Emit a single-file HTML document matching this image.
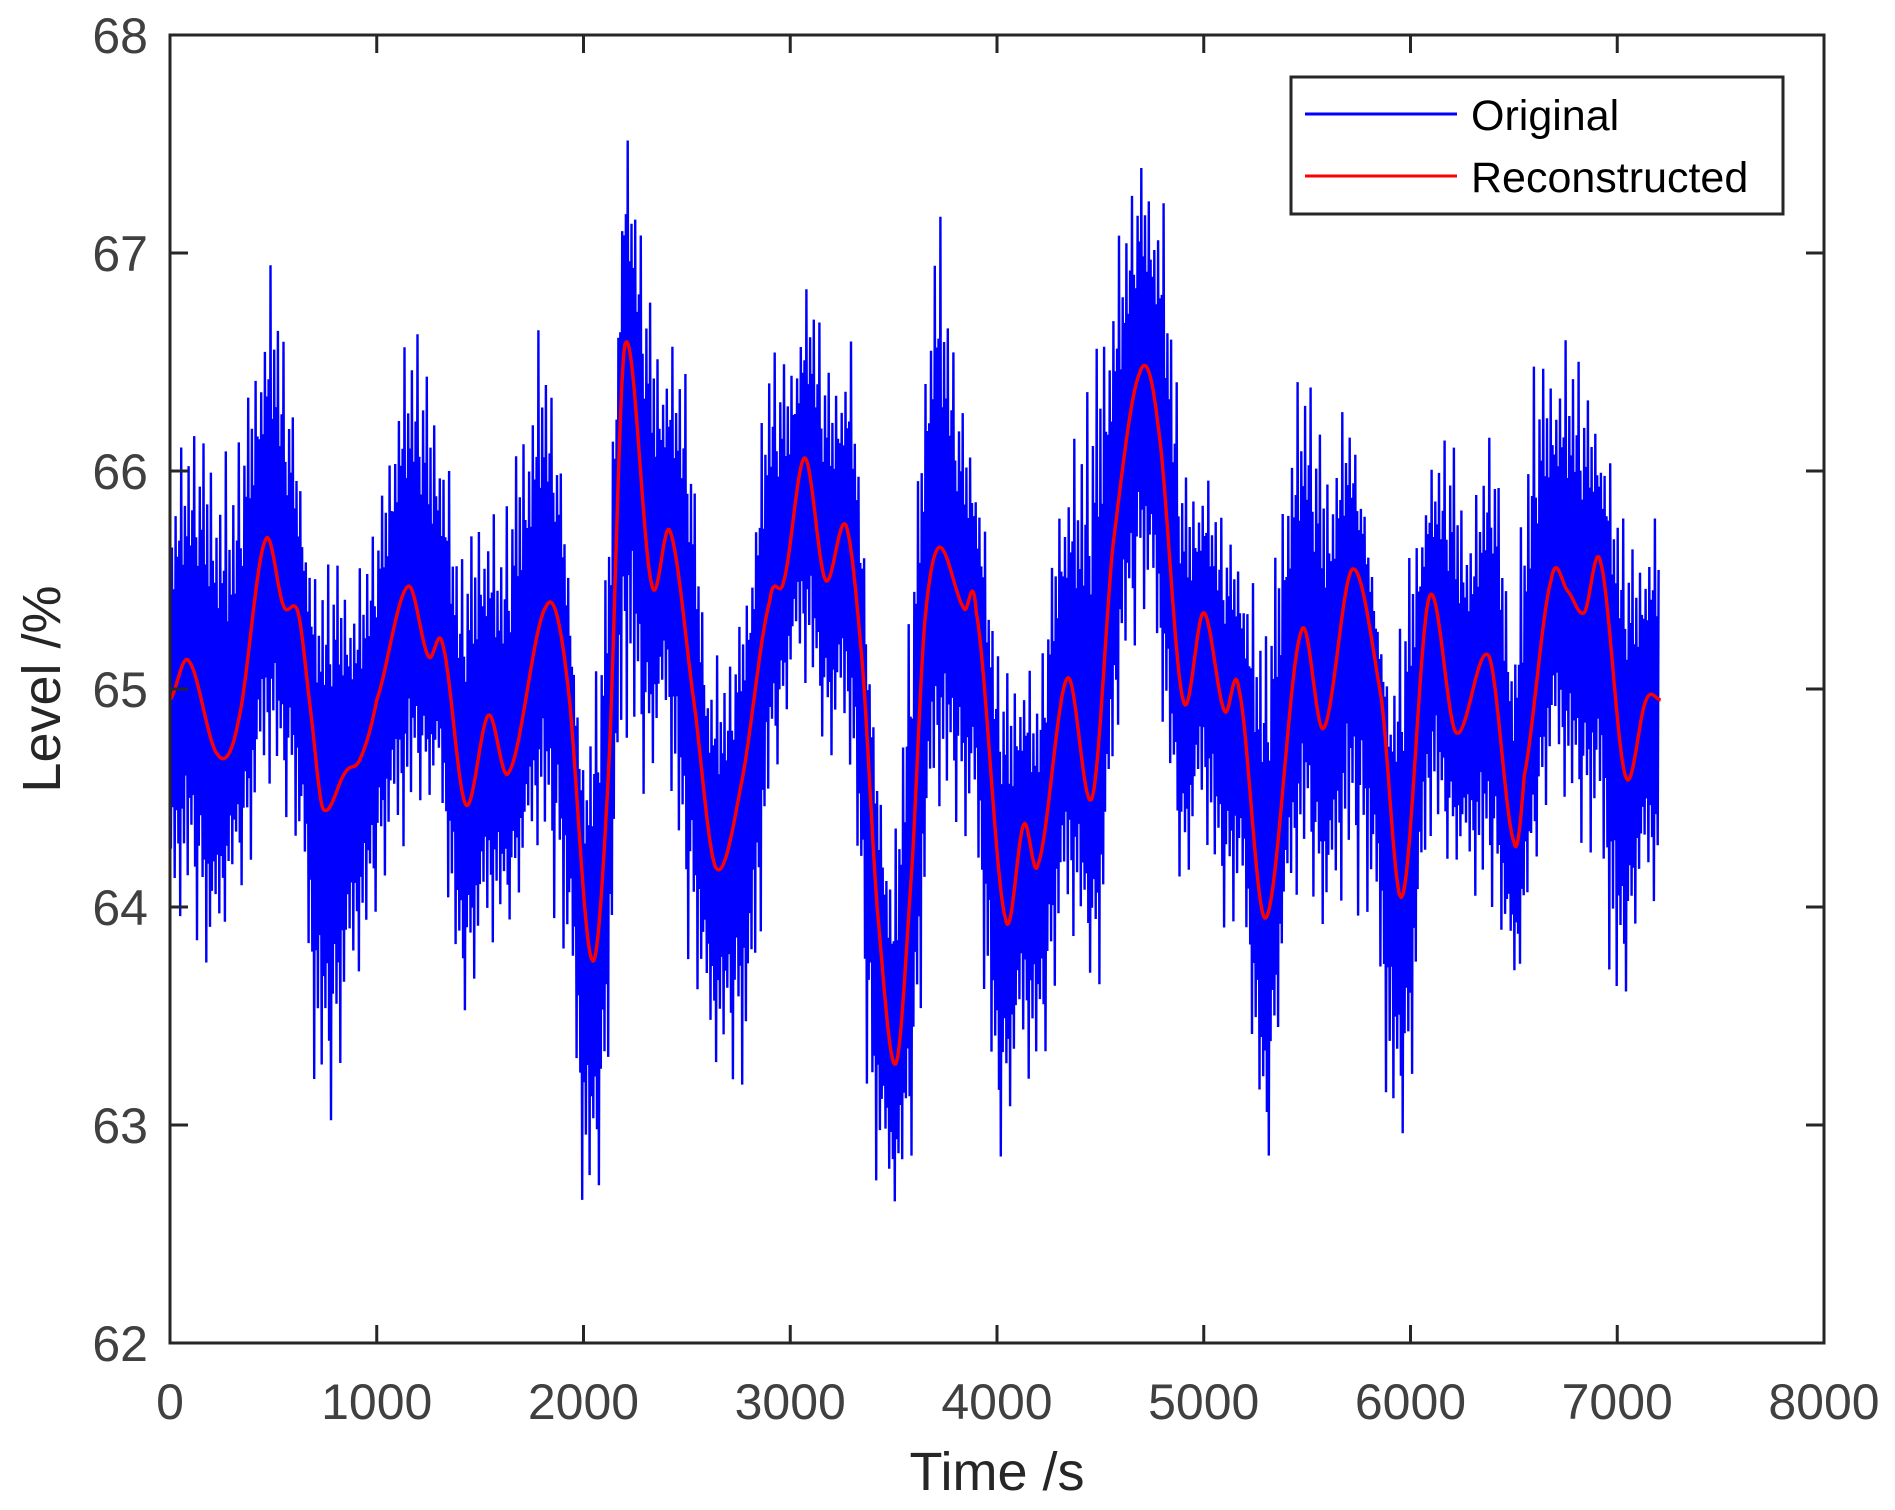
<!DOCTYPE html>
<html><head><meta charset="utf-8"><style>
html,body{margin:0;padding:0;background:#fff;}
svg{display:block;font-family:"Liberation Sans",Arial,sans-serif;}
</style></head><body>
<svg id="chart" width="1895" height="1510" viewBox="0 0 1895 1510" xmlns="http://www.w3.org/2000/svg">
<rect width="1895" height="1510" fill="#fff"/>
<defs><clipPath id="clip"><rect x="170" y="35" width="1654" height="1308"/></clipPath></defs>
<g id="series" clip-path="url(#clip)"></g>
<g id="axes"></g>
<text x="0" y="0" transform="translate(60,689) rotate(-90)" text-anchor="middle" font-size="54" fill="#262626">Level /%</text>
<text x="997" y="1490" text-anchor="middle" font-size="54" fill="#262626">Time /s</text>
<g>
<rect x="1291" y="77" width="492" height="137" fill="#fff" stroke="#262626" stroke-width="3"/>
<line x1="1305" y1="114" x2="1457" y2="114" stroke="#0000ff" stroke-width="3"/>
<text x="1471" y="130" font-size="43" fill="#000">Original</text>
<line x1="1305" y1="176" x2="1457" y2="176" stroke="#ff0000" stroke-width="3"/>
<text x="1471" y="192" font-size="43" fill="#000">Reconstructed</text>
</g>
</svg>
<script>
// ---- data ----
const recTimes = [0,90,230,330,460,550,620,680,740,850,920,1000,1150,1250,1320,1430,1540,1640,1820,1920,2040,2120,2200,2330,2420,2540,2640,2760,2900,2970,3070,3170,3270,3350,3420,3510,3590,3650,3720,3840,3900,4040,4130,4200,4340,4460,4560,4690,4780,4900,5000,5100,5170,5300,5470,5580,5720,5860,5960,6090,6220,6380,6500,6550,6680,6760,6840,6920,7040,7140,7210];
const recValues = [64.95,65.13,64.70,64.85,65.68,65.38,65.35,64.9,64.45,64.62,64.68,64.95,65.47,65.15,65.2,64.47,64.88,64.62,65.38,65.05,63.76,64.6,66.58,65.48,65.72,64.9,64.18,64.55,65.4,65.5,66.06,65.5,65.75,65.1,64.0,63.28,64.2,65.3,65.65,65.37,65.35,63.95,64.38,64.2,65.05,64.5,65.65,66.45,66.2,64.95,65.35,64.9,65.0,63.95,65.26,64.82,65.55,64.95,64.05,65.42,64.8,65.15,64.3,64.6,65.5,65.45,65.35,65.58,64.6,64.95,64.95];
const origTimes = [0,100,200,300,400,500,600,700,800,900,1000,1100,1200,1300,1400,1500,1600,1700,1800,1900,2000,2100,2200,2300,2400,2500,2600,2700,2800,2900,3000,3100,3200,3300,3400,3500,3600,3700,3800,3900,4000,4100,4200,4300,4400,4500,4600,4700,4800,4900,5000,5100,5200,5300,5400,5500,5600,5700,5800,5900,6000,6100,6200,6300,6400,6500,6600,6700,6800,6900,7000,7100,7200];
const origMax = [66.0,66.2,66.3,66.0,66.6,67.0,66.3,65.5,65.7,65.5,65.8,66.5,66.7,66.4,65.6,66.0,65.7,66.4,66.7,66.0,64.6,65.5,67.6,67.0,66.6,66.5,65.2,65.1,65.6,66.6,66.6,66.9,66.5,66.6,64.9,64.2,65.8,67.4,66.5,66.1,65.2,65.2,65.0,66.0,66.2,66.9,67.1,67.5,67.3,66.1,66.0,65.8,65.6,65.3,66.3,66.5,66.2,66.3,65.7,64.9,65.8,66.0,66.3,65.8,66.3,65.3,66.6,66.6,66.6,66.3,65.9,65.7,65.8];
const origMin = [63.8,64.0,63.5,64.1,64.1,64.6,64.3,63.1,63.0,63.6,64.0,64.1,64.5,64.4,63.5,63.6,63.9,64.0,64.3,63.7,62.5,62.8,64.7,64.5,64.7,63.8,63.2,63.3,62.9,64.5,64.9,65.0,64.6,64.6,62.6,62.6,62.9,64.4,64.4,64.0,62.8,63.1,63.2,63.6,63.9,63.5,65.0,65.3,64.8,64.0,64.3,63.9,63.7,62.7,63.8,64.2,63.7,64.1,63.8,62.9,63.0,64.3,64.2,64.0,64.0,63.5,64.2,64.5,64.4,64.0,63.4,63.9,64.0];
const xTicks = [0,1000,2000,3000,4000,5000,6000,7000,8000];
const yTicks = [62,63,64,65,66,67,68];
const xTickLabels = ["0","1000","2000","3000","4000","5000","6000","7000","8000"];
const yTickLabels = ["62","63","64","65","66","67","68"];

// ---- scales ----
const X0=170,X1=1824,Y0=1343,Y1=35;
const xs = t => X0 + (t-0)/(8000-0)*(X1-X0);
const ys = v => Y0 - (v-62)/(68-62)*(Y0-Y1);
const NS="http://www.w3.org/2000/svg";
function mk(tag, attrs){const e=document.createElementNS(NS,tag);for(const k in attrs)e.setAttribute(k,attrs[k]);return e;}

function interp(ts, vs, t){
  if(t<=ts[0])return vs[0];
  for(let i=1;i<ts.length;i++){ if(t<=ts[i]){const f=(t-ts[i-1])/(ts[i]-ts[i-1]);return vs[i-1]+f*(vs[i]-vs[i-1]);} }
  return vs[vs.length-1];
}
function smooth(ts, vs, t){
  let i=1; while(i<ts.length-1 && t>ts[i]) i++;
  const i0=Math.max(i-2,0),i1=i-1,i2=i,i3=Math.min(i+1,ts.length-1);
  const f=Math.min(Math.max((t-ts[i1])/(ts[i2]-ts[i1]),0),1);
  const p0=vs[i0],p1=vs[i1],p2=vs[i2],p3=vs[i3];
  const m1=(p2-p0)/2,m2=(p3-p1)/2;
  const f2=f*f,f3=f2*f;
  return (2*f3-3*f2+1)*p1+(f3-2*f2+f)*m1+(-2*f3+3*f2)*p2+(f3-f2)*m2;
}

const series=document.getElementById('series');
// ---- original (noisy) series ----
const pat=[0.5,0.65,0.45,0.75,0.55,0.6,1.0,0.45,0.7,0.55,0.85,0.5,0.65,0.95,0.55,0.45,0.75,0.6,0.9,0.5,0.7,0.45,0.8,0.55];
const patL=[0.6,0.45,0.75,0.5,0.65,0.95,0.55,0.7,0.45,0.85,0.55,0.65,0.5,0.75,1.0,0.6,0.45,0.65,0.55,0.9,0.5,0.7,0.55,0.45];
let pts=[];
const tEnd=origTimes[origTimes.length-1];
let k=0;
for(let t=0;t<=tEnd;t+=4.5){
  const c=smooth(recTimes,recValues,t);
  const mx=interp(origTimes,origMax,t), mn=interp(origTimes,origMin,t);
  const v = (k%2===0) ? c+(mx-c)*pat[(k>>1)%pat.length] : c-(c-mn)*patL[(k>>1)%patL.length];
  pts.push(xs(t).toFixed(1)+","+ys(v).toFixed(1));
  k++;
}
const orig=mk('polyline',{points:pts.join(" "),fill:"none",stroke:"#0000ff","stroke-width":"2.4","stroke-linejoin":"miter"});


series.appendChild(orig);

// ---- reconstructed series ----
let rp=[];
for(let t=0;t<=recTimes[recTimes.length-1];t+=5){rp.push(xs(t).toFixed(1)+","+ys(smooth(recTimes,recValues,t)).toFixed(1));}
const rec=mk('polyline',{points:rp.join(" "),fill:"none",stroke:"#ff0000","stroke-width":"3.4","stroke-linejoin":"round"});


series.appendChild(rec);

// ---- axes ----
const axes=document.getElementById('axes');
const box=mk('rect',{x:X0,y:Y1,width:X1-X0,height:Y0-Y1,fill:"none",stroke:"#262626","stroke-width":"3"});


axes.appendChild(box);
xTicks.forEach((t,i)=>{
  const x=xs(t);
  const tb=mk('line',{x1:x,y1:Y0,x2:x,y2:Y0-18,stroke:"#262626","stroke-width":"3"});
  
  
  axes.appendChild(tb);
  const tt=mk('line',{x1:x,y1:Y1,x2:x,y2:Y1+18,stroke:"#262626","stroke-width":"3"});
  
  
  axes.appendChild(tt);
  const lb=mk('text',{x:x,y:1419,"text-anchor":"middle","font-size":"50",fill:"#404040"});
  lb.textContent=xTickLabels[i];
  
  
  axes.appendChild(lb);
});
yTicks.forEach((v,i)=>{
  const y=ys(v);
  const tl=mk('line',{x1:X0,y1:y,x2:X0+18,y2:y,stroke:"#262626","stroke-width":"3"});
  
  
  axes.appendChild(tl);
  const tr=mk('line',{x1:X1,y1:y,x2:X1-18,y2:y,stroke:"#262626","stroke-width":"3"});
  
  
  axes.appendChild(tr);
  const lb=mk('text',{x:148,y:y+18,"text-anchor":"end","font-size":"50",fill:"#404040"});
  lb.textContent=yTickLabels[i];
  
  
  axes.appendChild(lb);
});
</script>
</body></html>
